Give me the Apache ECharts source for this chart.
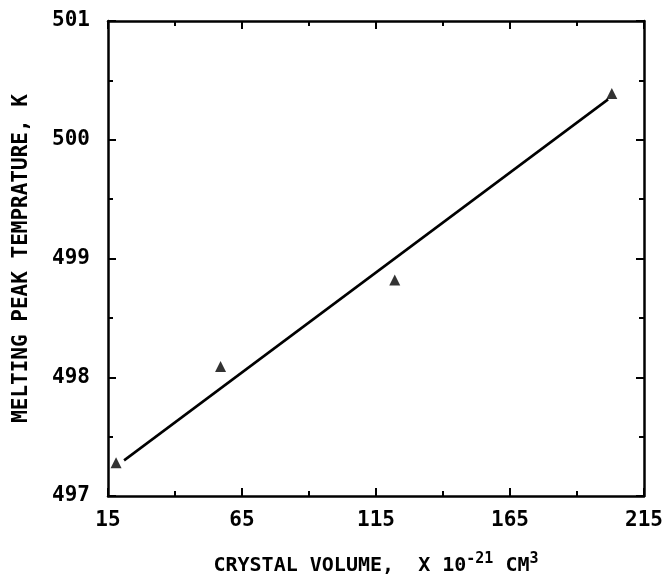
<!DOCTYPE html>
<html>
<head>
<meta charset="utf-8">
<script src="https://cdn.jsdelivr.net/npm/echarts@6/dist/echarts.min.js"></script>
<style>
  html, body { margin: 0; padding: 0; background: #fff; }
  #chart { width: 670px; height: 581px; }
</style>
</head>
<body>
<div id="chart"></div>
<script>
// Crystal volume (x 10^-21 cm^3) vs. melting peak temperature (K)
const crystalVolume = [18, 57, 122, 203];
const meltingPeak = [497.28, 498.09, 498.82, 500.39];

// Least-squares fit line endpoints as drawn
const fitVolume = [21, 201.6];
const fitTemp = [497.30, 500.34];

const xTicks = [15, 65, 115, 165, 215];
const yTicks = [497, 498, 499, 500, 501];

const FONT = '"DejaVu Sans Mono", monospace';

const pointData = crystalVolume.map((v, i) => [v, meltingPeak[i]]);
const fitData = fitVolume.map((v, i) => [v, fitTemp[i]]);

const axisLine = { show: true, onZero: false, lineStyle: { color: '#000', width: 2.5 } };
const axisTick = { show: true, inside: true, length: 8, lineStyle: { color: '#000', width: 2 } };
const minorTick = { show: true, splitNumber: 2, length: 5, lineStyle: { color: '#000', width: 2 } };

const chart = echarts.init(document.getElementById('chart'), null, { renderer: 'canvas' });
chart.setOption({
  backgroundColor: '#fff',
  animation: false,
  grid: { left: 108, right: 26, top: 21, bottom: 85, containLabel: false, outerBoundsMode: 'none' },
  xAxis: [
    {
      type: 'value', position: 'bottom',
      min: xTicks[0], max: xTicks[xTicks.length - 1], interval: 50,
      axisLine, axisTick, minorTick,
      splitLine: { show: false },
      axisLabel: { color: '#000', fontFamily: FONT, fontWeight: 'bold', fontSize: 21, margin: 14 },
      name: '{t|CRYSTAL VOLUME,  X 10}{s|-21}{t| CM}{s|3}',
      nameLocation: 'middle', nameGap: 56,
      nameTextStyle: {
        rich: {
          t: { fontFamily: FONT, fontWeight: 'bold', fontSize: 20, color: '#000', verticalAlign: 'bottom', lineHeight: 24 },
          s: { fontFamily: FONT, fontWeight: 'bold', fontSize: 15, color: '#000', verticalAlign: 'top', padding: [0, 0, 14, 0], lineHeight: 24 }
        }
      }
    },
    {
      type: 'value', position: 'top',
      min: xTicks[0], max: xTicks[xTicks.length - 1], interval: 50,
      axisLine, axisTick, minorTick,
      splitLine: { show: false },
      axisLabel: { show: false }
    }
  ],
  yAxis: [
    {
      type: 'value', position: 'left',
      min: yTicks[0], max: yTicks[yTicks.length - 1], interval: 1,
      axisLine, axisTick, minorTick,
      splitLine: { show: false },
      axisLabel: { color: '#000', fontFamily: FONT, fontWeight: 'bold', fontSize: 21, margin: 18, verticalAlign: 'middle', padding: [0, 0, 12, 0] },
      name: 'MELTING PEAK TEMPRATURE, K',
      nameLocation: 'middle', nameGap: 76,
      nameTextStyle: { fontFamily: FONT, fontWeight: 'bold', fontSize: 21, color: '#000' }
    },
    {
      type: 'value', position: 'right',
      min: yTicks[0], max: yTicks[yTicks.length - 1], interval: 1,
      axisLine, axisTick, minorTick,
      splitLine: { show: false },
      axisLabel: { show: false }
    }
  ],
  series: [
    {
      type: 'line',
      data: fitData,
      showSymbol: false,
      lineStyle: { color: '#000', width: 2.5 },
      silent: true
    },
    {
      type: 'scatter',
      data: pointData,
      symbol: 'triangle',
      symbolSize: 11,
      itemStyle: { color: '#000' }
    }
  ]
});
</script>
</body>
</html>
